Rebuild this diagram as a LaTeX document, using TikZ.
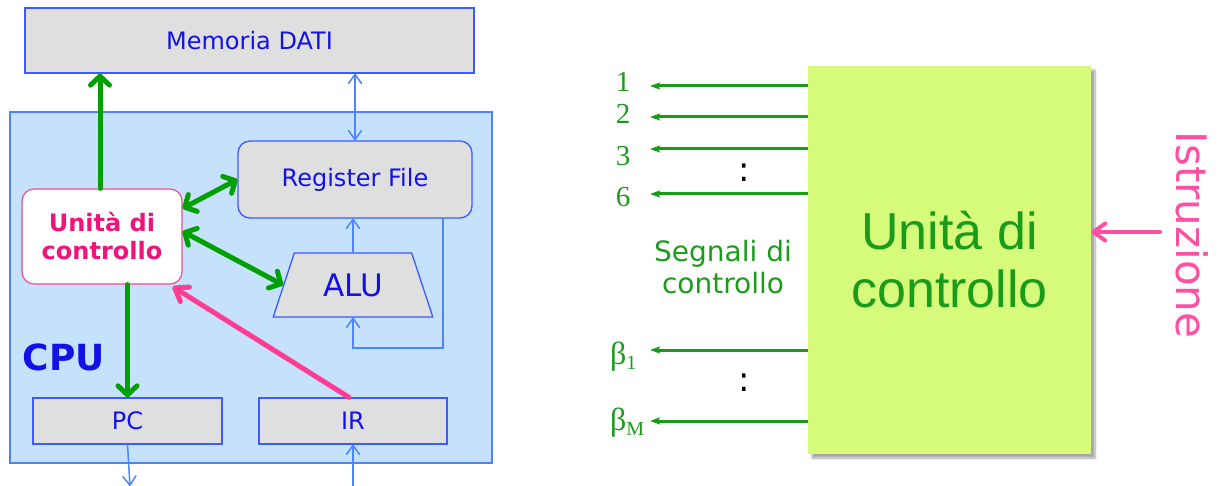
\documentclass[tikz,border=0pt]{standalone}
\usepackage{fontspec}
\setmainfont{DejaVu Sans}
\newfontfamily\arialf{Liberation Sans}
\newfontfamily\timesf{Liberation Serif}
\usetikzlibrary{arrows.meta,shapes.geometric,shadows.blur}

\definecolor{memfill}{HTML}{DFDFDF}
\definecolor{boxline}{HTML}{3A5BFF}
\definecolor{cpufill}{HTML}{C6E1FB}
\definecolor{cpuline}{HTML}{4F80FF}
\definecolor{txtblue}{HTML}{1212E6}
\definecolor{ucpink}{HTML}{F0137A}
\definecolor{ucline}{HTML}{F2489A}
\definecolor{gline}{HTML}{00A000}
\definecolor{pline}{HTML}{FF3D92}
\definecolor{bline}{HTML}{4A86FF}
\definecolor{cugreen}{HTML}{D6FA7A}
\definecolor{sigtext}{HTML}{1A9C1A}
\definecolor{istr}{HTML}{FF4FA3}

\tikzset{
  gtip/.tip={Straight Barb[length=9pt,width=19pt,round]},
  btip/.tip={Straight Barb[length=9pt,width=13pt,round]},
  ptip/.tip={Straight Barb[length=12pt,width=17pt,round]},
  stip/.tip={Stealth[length=10pt,width=7pt,inset=2pt]},
  fnt/.style={font=\fontsize{#1}{#1}\selectfont},
  regbox/.style={draw=boxline, line width=1.3pt, fill=memfill, text=txtblue,
    fnt=24},
  cpubox/.style={draw=cpuline, line width=1.2pt, fill=cpufill},
  gwire/.style={draw=gline, line width=5pt, line cap=round},
  bwire/.style={draw=bline, line width=1.5pt},
  pwire/.style={draw=pline, line width=5pt, line cap=round},
  sigwire/.style={draw=sigtext, line width=3pt, -stip},
  siglbl/.style={text=sigtext, font=\timesf\fontsize{29}{29}\selectfont,
    inner sep=0pt},
  dotlbl/.style={font=\fontsize{34}{34}\selectfont},
}

\begin{document}
\begin{tikzpicture}[x=1pt,y=-1pt]
\useasboundingbox (0,0) rectangle (1218,486);

% ---------- CPU datapath ----------
\node[regbox, minimum width=449pt, minimum height=65pt] (mem) at (249.5,40.5) {Memoria DATI};
\node[cpubox, minimum width=482pt, minimum height=351pt] (cpu) at (251,287.5) {};
\node[text=txtblue, font=\bfseries\fontsize{36}{36}\selectfont] (cpulbl) at (64,357) {CPU};

\node[regbox, rounded corners=12pt, minimum width=234pt, minimum height=77pt] (rf) at (355,179.5) {Register File};
\node[draw=ucline, line width=1.2pt, fill=white, rounded corners=12pt,
      minimum width=160pt, minimum height=95pt, text=ucpink, align=center,
      font=\bfseries\fontsize{24}{28}\selectfont] (uc) at (102,236.5) {Unità di\\controllo};
\node[regbox, trapezium, trapezium left angle=65, trapezium right angle=65,
      trapezium stretches=true, minimum width=160pt, minimum height=64pt,
      inner sep=0pt, fnt=31] (alu) at (353,285) {ALU};
\node[regbox, minimum width=189pt, minimum height=46pt] (pc) at (127.5,421) {PC};
\node[regbox, minimum width=188pt, minimum height=46pt] (ir) at (353,421) {IR};

\coordinate (fb) at (443,348);
\coordinate (pcout) at (130,486);
\coordinate (irin) at (353,486);

% control unit links
\draw[gwire, -gtip] ([xshift=-2pt]uc.north) -- ([xshift=-2pt]uc.north |- mem.south);
\draw[gwire, gtip-gtip] ([yshift=-20pt]uc.north east) -- (rf.west);
\draw[gwire, gtip-gtip] ([yshift=-43pt]uc.north east) -- (alu.west);
\draw[gwire, -gtip] (uc.south -| pc.north) -- (pc.north);
\draw[pwire, -ptip] ([xshift=-4pt]ir.north) -- ([xshift=-10pt,yshift=-2pt]uc.south east);

% data paths
\draw[bwire, btip-btip] (rf.north |- mem.south) -- (rf.north);
\draw[bwire, -btip] (alu.north) -- (alu.north |- rf.south);
\draw[bwire, -btip] (fb |- rf.south) -- (fb) -| (alu.south);
\draw[bwire, -btip] (pc.south) -- (pcout);
\draw[bwire, -btip] (irin) -- (ir.south);

% ---------- control unit as a black box ----------
\node[fill=cugreen, minimum width=283pt, minimum height=388pt,
      blur shadow={shadow xshift=4pt, shadow yshift=-4pt, shadow blur steps=6, shadow opacity=35},
      text=sigtext, align=center, font=\arialf\fontsize{52}{58}\selectfont] (cu) at (949.5,260) {Unità di\\controllo};

\coordinate (o1) at (650,86);
\coordinate (o2) at (650,117);
\coordinate (o3) at (650,149);
\coordinate (o6) at (650,194);
\coordinate (ob1) at (650,350);
\coordinate (obm) at (650,421);

\draw[sigwire] (cu.west |- o1) -- (o1);
\draw[sigwire] (cu.west |- o2) -- (o2);
\draw[sigwire] (cu.west |- o3) -- (o3);
\draw[sigwire] (cu.west |- o6) -- (o6);
\draw[sigwire] (cu.west |- ob1) -- (ob1);
\draw[sigwire] (cu.west |- obm) -- (obm);

\node[siglbl] (l1) at (623,82) {1};
\node[siglbl] (l2) at (623,114) {2};
\node[siglbl] (l3) at (623,156) {3};
\node[siglbl] (l6) at (623,197) {6};
\node[siglbl, anchor=west, font=\timesf\fontsize{32}{32}\selectfont] (lb1) at (610,357) {β\raisebox{-0.3ex}{\fontsize{20}{20}\selectfont 1}};
\node[siglbl, anchor=west, font=\timesf\fontsize{32}{32}\selectfont] (lbm) at (610,423) {β\raisebox{-0.3ex}{\fontsize{20}{20}\selectfont M}};

\node[dotlbl] (d1) at (744,173) {:};
\node[dotlbl] (d2) at (744,383) {:};

\node[text=sigtext, align=center, font=\fontsize{28}{32}\selectfont] (seg) at (723,267) {Segnali di\\controllo};

\coordinate (istrin) at (1160,232);
\draw[draw=istr, line width=4pt, line cap=round, -ptip] (istrin) -- (cu.east |- istrin);
\node[text=istr, rotate=-90, font=\fontsize{42}{42}\selectfont] (istrlbl) at (1192,235) {Istruzione};
\end{tikzpicture}
\end{document}
